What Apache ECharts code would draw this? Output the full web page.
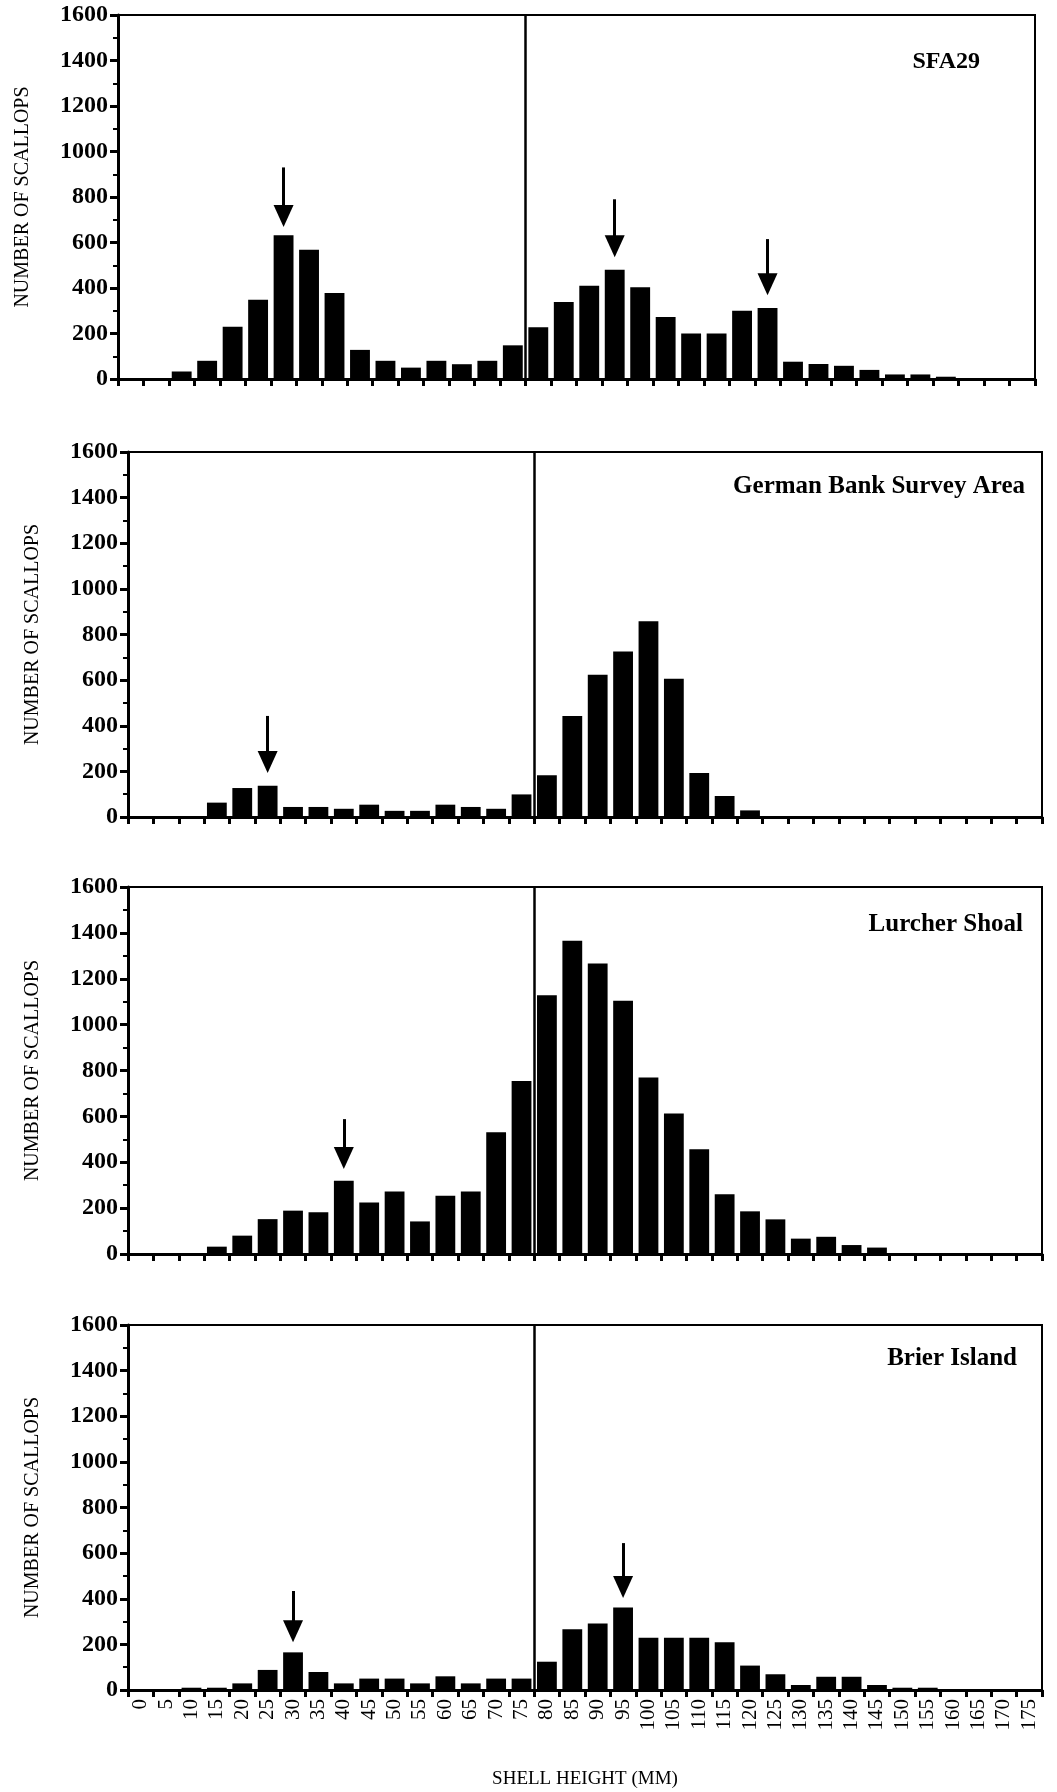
<!DOCTYPE html>
<html lang="en">
<head>
    <meta charset="utf-8">
    <title>Scallop shell height frequencies</title>
    <script src="https://cdn.jsdelivr.net/npm/echarts@6/dist/echarts.min.js"></script>
    <style>
        html, body { margin: 0; padding: 0; background: #fff; }
        #main { width: 1057px; height: 1792px; }
    </style>
</head>
<body>
<div id="main"></div>
<script type="text/javascript">
    // shell height classes (mm)
    var sizes = ['0', '5', '10', '15', '20', '25', '30', '35', '40', '45', '50', '55', '60', '65', '70', '75',
        '80', '85', '90', '95', '100', '105', '110', '115', '120', '125', '130', '135', '140', '145', '150',
        '155', '160', '165', '170', '175'];
    var yTicks = [0, 200, 400, 600, 800, 1000, 1200, 1400, 1600];

    // number of scallops per class, one list per area
    var sfa29 = [0, 0, 33, 80, 230, 348, 632, 568, 378, 128, 80, 50, 80, 65, 80, 148,
        228, 338, 410, 480, 403, 273, 200, 200, 300, 312, 76, 66, 58, 40, 20, 20, 10, 0, 0, 0];
    var germanBank = [0, 0, 0, 63, 127, 137, 44, 44, 36, 54, 27, 27, 54, 44, 36, 99,
        183, 443, 624, 726, 858, 606, 193, 92, 29, 0, 0, 0, 0, 0, 0, 0, 0, 0, 0, 0];
    var lurcher = [0, 0, 0, 32, 80, 152, 189, 182, 319, 225, 273, 142, 254, 273, 531, 754,
        1128, 1366, 1266, 1104, 770, 613, 457, 261, 186, 151, 67, 75, 39, 28, 0, 0, 0, 0, 0, 0];
    var brier = [0, 0, 10, 10, 29, 88, 165, 79, 29, 50, 50, 29, 60, 29, 50, 50,
        124, 266, 292, 362, 229, 229, 229, 209, 107, 69, 22, 58, 58, 22, 10, 10, 0, 0, 0, 0];

    // arrows marking modes: [class, tail value, head value]
    var sfa29Arrows = [['30', 930, 716], ['95', 790, 584], ['125', 615, 417]];
    var germanArrows = [['25', 443, 241]];
    var lurcherArrows = [['40', 588, 418]];
    var brierArrows = [['30', 434, 258], ['95', 644, 451]];

    var names = ['SFA29', 'German Bank Survey Area', 'Lurcher Shoal', 'Brier Island'];
    var allData = [sfa29, germanBank, lurcher, brier];
    var allArrows = [sfa29Arrows, germanArrows, lurcherArrows, brierArrows];
    var splitAt = 16; // boundary between 75 and 80 mm

    var FONT = '"Liberation Serif", "Times New Roman", serif';
    var grids = [
        {left: 118, right: 22, top: 15, height: 364},
        {left: 128, right: 15, top: 452, height: 365},
        {left: 128, right: 15, top: 887, height: 367},
        {left: 128, right: 15, top: 1325, height: 365}
    ];
    var titlePos = [
        {right: 72, top: 45, size: 24},
        {right: 27, top: 469, size: 25},
        {right: 29, top: 907, size: 25},
        {right: 35, top: 1341, size: 25}
    ];

    var myChart = echarts.init(document.getElementById('main'));

    var option = {
        animation: false,
        backgroundColor: '#fff',
        title: [],
        grid: [],
        xAxis: [],
        yAxis: [],
        series: []
    };

    for (let i = 0; i < 4; i++) {
        let last = (i === 3);
        option.title.push({
            text: names[i],
            right: titlePos[i].right,
            top: titlePos[i].top,
            textStyle: {fontFamily: FONT, fontWeight: 'bold', fontSize: titlePos[i].size, color: '#000'}
        });
        option.grid.push({
            left: grids[i].left, right: grids[i].right, top: grids[i].top, height: grids[i].height,
            show: true, borderColor: '#000', borderWidth: 2, backgroundColor: 'transparent'
        });
        // category axis for the bars
        option.xAxis.push({
            type: 'category',
            gridIndex: i,
            data: sizes,
            boundaryGap: true,
            axisLine: {show: true, lineStyle: {color: '#000', width: 3}},
            axisTick: {show: true, interval: 0, length: 7, lineStyle: {color: '#000', width: 3}},
            axisLabel: {
                show: last, interval: 0, rotate: 90, margin: 9,
                fontFamily: FONT, fontSize: 21, color: '#000'
            },
            splitLine: {show: false},
            name: last ? 'SHELL HEIGHT (MM)' : '',
            nameLocation: 'middle',
            nameGap: 80,
            nameTextStyle: {fontFamily: FONT, fontSize: 19, color: '#000'}
        });
        // hidden value axis used only for the splice line
        option.xAxis.push({
            type: 'value', gridIndex: i, min: 0, max: sizes.length, show: false
        });
        option.yAxis.push({
            type: 'value',
            gridIndex: i,
            min: yTicks[0],
            max: yTicks[yTicks.length - 1],
            interval: yTicks[1] - yTicks[0],
            axisLine: {show: true, lineStyle: {color: '#000', width: 3}},
            axisTick: {show: true, length: 8, lineStyle: {color: '#000', width: 3}},
            minorTick: {show: true, splitNumber: 2, length: 5, lineStyle: {color: '#000', width: 2}},
            splitLine: {show: false},
            axisLabel: {
                margin: 10, fontFamily: FONT, fontSize: 24, fontWeight: 'bold', color: '#000',
                formatter: function (v) { return String(v); }
            },
            name: 'NUMBER OF SCALLOPS',
            nameLocation: 'middle',
            nameGap: 85,
            nameTextStyle: {fontFamily: FONT, fontSize: 20, color: '#000'}
        });

        let arrowLines = allArrows[i].map(function (a) {
            return [{coord: [a[0], a[1]]}, {coord: [a[0], a[2]]}];
        });

        option.series.push({
            type: 'bar',
            xAxisIndex: i * 2,
            yAxisIndex: i,
            data: allData[i],
            barWidth: '78%',
            itemStyle: {color: '#000'},
            silent: true,
            markLine: {
                silent: true,
                symbol: ['none', 'triangle'],
                symbolSize: [20, 22],
                label: {show: false},
                lineStyle: {color: '#000', width: 3, type: 'solid'},
                emphasis: {disabled: true},
                data: arrowLines
            }
        });
        option.series.push({
            type: 'line',
            xAxisIndex: i * 2 + 1,
            yAxisIndex: i,
            data: [[splitAt, 0]],
            symbol: 'none',
            lineStyle: {width: 0},
            silent: true,
            markLine: {
                silent: true,
                symbol: ['none', 'none'],
                label: {show: false},
                lineStyle: {color: '#000', width: 2.5, type: 'solid'},
                emphasis: {disabled: true},
                data: [{xAxis: splitAt}]
            }
        });
    }

    myChart.setOption(option);
</script>
</body>
</html>
